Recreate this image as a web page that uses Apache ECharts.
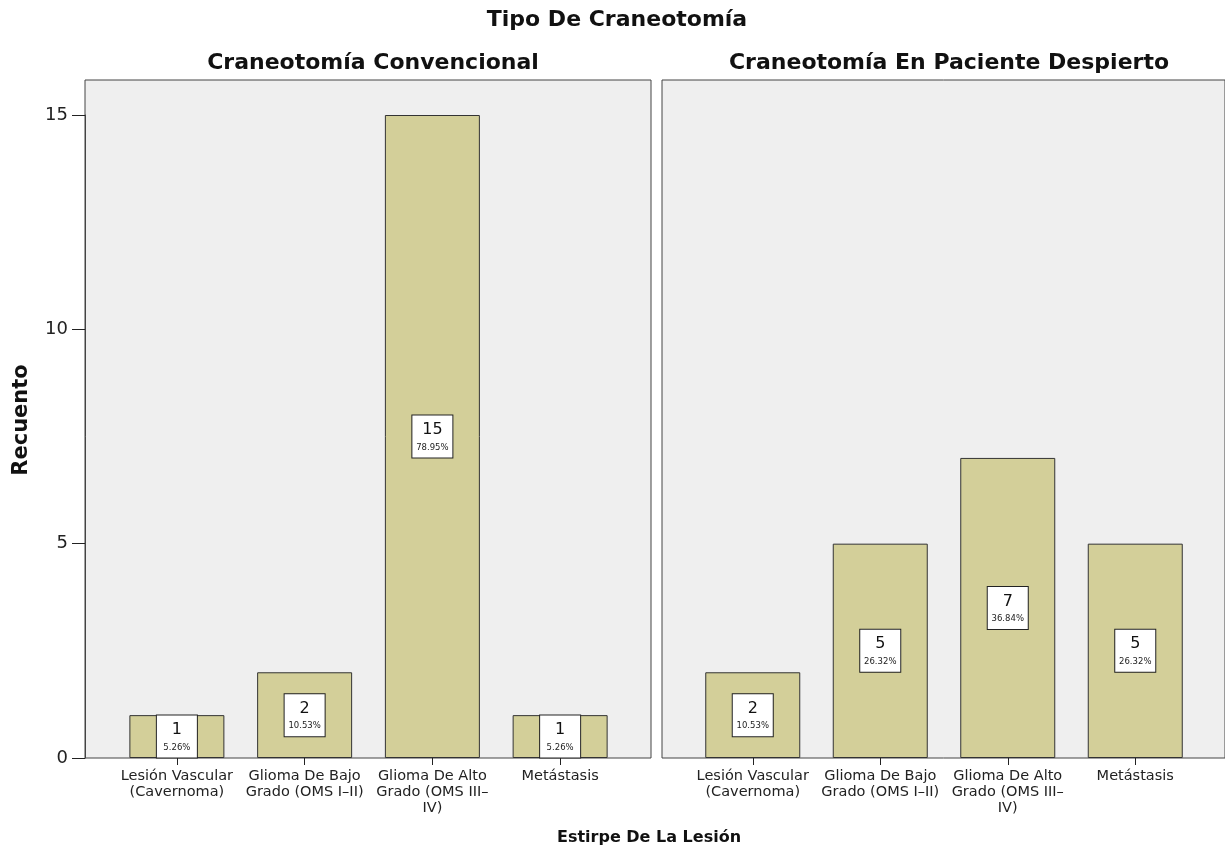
<!DOCTYPE html>
<html>
<head>
<meta charset="utf-8">
<script src="https://cdn.jsdelivr.net/npm/echarts@6/dist/echarts.min.js"></script>
<style>
html, body { margin: 0; padding: 0; background: #fff; }
#chart { width: 1225px; height: 850px; }
</style>
</head>
<body>
<div id="chart"></div>
<script>
// categorias y valores
var categorias = ['Lesión Vascular\n(Cavernoma)', 'Glioma De Bajo\nGrado (OMS I–II)',
	'Glioma De Alto\nGrado (OMS III–\nIV)', 'Metástasis'];
var convencional = [1, 2, 15, 1];
var convencionalPct = ['5.26', '10.53', '78.95', '5.26'];
var despierto = [2, 5, 7, 5];
var despiertoPct = ['10.53', '26.32', '36.84', '26.32'];
var yTicks = [0, 5, 10, 15];

var fuente = 'DejaVu Sans';
var colorBarra = '#d3cf99';

var etiqueta = function(pcts){
	return {
		show: true,
		position: 'inside',
		backgroundColor: '#fff',
		borderColor: '#222',
		borderWidth: 1,
		padding: [4, 3, 3, 3],
		width: 34,
		align: 'center',
		formatter: function(p){
			return '{a|' + p.value + '}\n{b|' + pcts[p.dataIndex] + '%}';
		},
		rich: {
			a: {fontSize: 16, lineHeight: 21, color: '#111', fontFamily: fuente, align: 'center'},
			b: {fontSize: 8.5, lineHeight: 14, color: '#222', fontFamily: fuente, align: 'center'}
		}
	};
};

var ejeX = function(idx){
	return {
		type: 'category',
		gridIndex: idx,
		data: categorias,
		axisLine: {show: false},
		axisTick: {show: true, alignWithLabel: true, length: 7, lineStyle: {color: '#222'}},
		axisLabel: {interval: 0, margin: 10, fontSize: 14.5, lineHeight: 16, color: '#222', fontFamily: fuente}
	};
};

var ejeVacio = function(idx, tipo){
	return {type: tipo, gridIndex: idx, show: false, min: 0, max: 1};
};

var chart = echarts.init(document.getElementById('chart'));
chart.setOption({
	animation: false,
	backgroundColor: '#fff',
	title: [
		{text: 'Tipo De Craneotomía', left: 612, top: 4, textAlign: 'center',
			textStyle: {fontSize: 22, fontWeight: 'bold', color: '#111', fontFamily: fuente}},
		{text: 'Craneotomía Convencional', left: 368, top: 47, textAlign: 'center',
			textStyle: {fontSize: 22, fontWeight: 'bold', color: '#111', fontFamily: fuente}},
		{text: 'Craneotomía En Paciente Despierto', left: 944, top: 47, textAlign: 'center',
			textStyle: {fontSize: 22, fontWeight: 'bold', color: '#111', fontFamily: fuente}},
		{text: 'Estirpe De La Lesión', left: 644, top: 825, textAlign: 'center',
			textStyle: {fontSize: 16, fontWeight: 'bold', color: '#111', fontFamily: fuente}}
	],
	graphic: [{
		type: 'text', x: 22, y: 420, rotation: Math.PI / 2,
		style: {text: 'Recuento', fontSize: 21, fontWeight: 'bold', fill: '#111', fontFamily: fuente,
			align: 'center', verticalAlign: 'middle'}
	}],
	grid: [
		// fondos de los paneles
		{left: 85, top: 80, width: 566, height: 678, show: true, backgroundColor: '#efefef', borderColor: '#444', borderWidth: 1},
		{left: 662, top: 80, width: 566, height: 678, show: true, backgroundColor: '#efefef', borderColor: '#444', borderWidth: 1},
		// areas de datos
		{left: 113, top: 115, width: 511, height: 643},
		{left: 689, top: 115, width: 510, height: 643}
	],
	xAxis: [ejeVacio(0, 'value'), ejeVacio(1, 'value'), ejeX(2), ejeX(3)],
	yAxis: [
		ejeVacio(0, 'value'), ejeVacio(1, 'value'),
		{type: 'value', gridIndex: 2, min: yTicks[0], max: yTicks[yTicks.length - 1], interval: 5, offset: 28,
			splitLine: {show: false},
			axisLine: {show: true, lineStyle: {color: '#444'}},
			axisTick: {show: true, length: 13, lineStyle: {color: '#222'}},
			axisLabel: {margin: 17, fontSize: 18, color: '#222', fontFamily: fuente}},
		{type: 'value', gridIndex: 3, min: yTicks[0], max: yTicks[yTicks.length - 1], interval: 5, show: false,
			splitLine: {show: false}}
	],
	series: [
		{type: 'bar', xAxisIndex: 2, yAxisIndex: 2, data: convencional, barWidth: 95,
			itemStyle: {color: colorBarra, borderColor: '#333', borderWidth: 1},
			label: etiqueta(convencionalPct)},
		{type: 'bar', xAxisIndex: 3, yAxisIndex: 3, data: despierto, barWidth: 95,
			itemStyle: {color: colorBarra, borderColor: '#333', borderWidth: 1},
			label: etiqueta(despiertoPct)}
	]
});
</script>
</body>
</html>
